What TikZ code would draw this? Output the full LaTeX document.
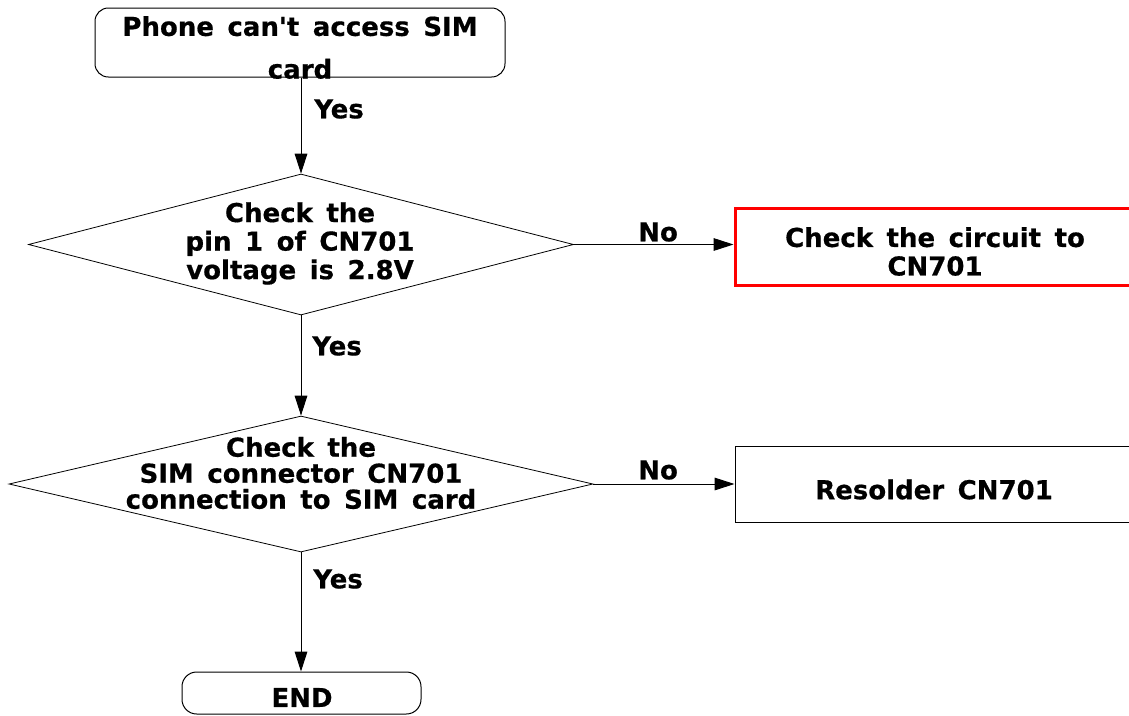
\documentclass[tikz,border=0pt]{standalone}
\usepackage{fontspec}
\setmainfont{DejaVu Sans}[BoldFeatures={FakeBold=0.6}]
\usetikzlibrary{arrows.meta,shapes.geometric}
\newcommand\myfnt[1]{\bfseries\fontsize{19.5}{#1}\selectfont\spaceskip=0.52em\relax}
\tikzset{
  x=0.75pt, y=-0.75pt,
  txt/.style={font=\myfnt{21.4}, align=center, inner sep=0pt},
  termbox/.style={draw, line width=0.75pt, rounded corners=10pt, inner sep=0pt},
  procbox/.style={draw, line width=0.75pt, inner sep=0pt, minimum width=300pt},
  decbox/.style={draw, diamond, line width=0.6pt, inner sep=0pt},
  flow/.style={draw, line width=0.75pt, -{Triangle[length=15pt,width=9.5pt]}},
  lab/.style={txt, anchor=west},
}
\begin{document}
\begin{tikzpicture}
\useasboundingbox (0,0) rectangle (1129,715);
% nodes
\node[termbox, minimum width=307.5pt, minimum height=51.75pt] (start) at (300,42.5) {};
\node[txt, font=\myfnt{32}] (starttxt) at (300,47.5) {Phone can\textquotesingle t access SIM\\card};
\node[decbox, minimum width=408.75pt, minimum height=105.75pt] (d1) at (301,244.5) {};
\node[txt] (d1txt) at (300,243.5) {Check the\\pin 1 of CN701\\voltage is 2.8V};
\node[procbox, draw=red, line width=2.25pt, minimum height=57.75pt] (p1) at (935,246.5) {};
\node[txt] (p1txt) at (935,251.5) {Check the circuit to\\CN701};
\node[decbox, minimum width=438pt, minimum height=102pt] (d2) at (301,484) {};
\node[txt, font=\myfnt{19.5}] (d2txt) at (301,473) {Check the\\SIM connector CN701\\connection to SIM card};
\node[procbox, minimum height=57pt] (p2) at (935,484) {};
\node[txt] (p2txt) at (934,489.5) {Resolder CN701};
\node[termbox, rounded corners=11pt, minimum width=179.25pt, minimum height=31.5pt] (endn) at (301.5,693) {};
\node[txt] (endtxt) at (302,697.5) {END};
% connectors
\draw[flow] (start.south -| d1.north) -- (d1.north);
\draw[flow] (d1.east) -- (d1.east -| p1.west);
\draw[flow] (d1.south) -- (d2.north);
\draw[flow] (d2.east) -- (d2.east -| p2.west);
\draw[flow] (d2.south) -- (d2.south |- endn.north);
% labels
\node[lab] (y1) at (314,109) {Yes};
\node[lab] (n1) at (638,232) {No};
\node[lab] (y2) at (312,346) {Yes};
\node[lab] (n2) at (638,470) {No};
\node[lab] (y3) at (313,579) {Yes};
\end{tikzpicture}
\end{document}
